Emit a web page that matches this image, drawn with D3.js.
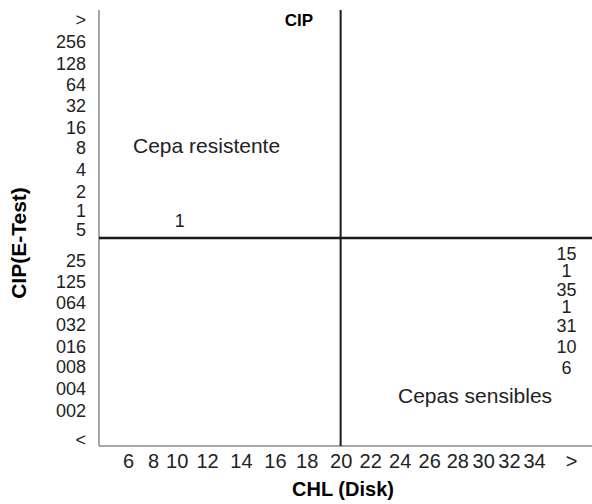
<!DOCTYPE html>
<html>
<head>
<meta charset="utf-8">
<script src="https://cdn.jsdelivr.net/npm/d3@7"></script>
<style>
  body { margin: 0; background: #fff; }
  svg { display: block; font-family: "Liberation Sans", Arial, sans-serif; }
  .num { font-family: "Liberation Sans Narrow", "Arial Narrow", "Liberation Sans", sans-serif; fill: #222; }
</style>
</head>
<body>
<div id="chart"></div>
<script>
"use strict";

// CHL disk diameters (x) and CIP E-test MIC rows (y)
const xTickLabels = ["6", "8", "10", "12", "14", "16", "18", "20", "22", "24", "26", "28", "30", "32", "34", ">"];
// column position of each x label (the source spaces them a little unevenly)
const xTickPos = [6, 7.7, 9.3, 11.35, 13.65, 15.95, 18.1, 20.4, 22.4, 24.4, 26.4, 28.3, 30.05, 31.8, 33.5, 36];

const yTickLabels = ["<", "002", "004", "008", "016", "032", "064", "125", "25", "5", "1", "2", "4", "8", "16", "32", "64", "128", "256", ">"];
// row position of each y label
const yTickPos = [0.3, 1.6, 2.6, 3.6, 4.5, 5.5, 6.5, 7.45, 8.4, 9.8, 10.7, 11.55, 12.55, 13.55, 14.45, 15.45, 16.4, 17.35, 18.35, 19.35];

// breakpoints drawn as the quadrant lines
const xBreak = 20.4;
const yBreak = 9.45;

// strain counts written in the chart
const countX = [9.5, 35.7, 35.7, 35.7, 35.7, 35.7, 35.7, 35.7];
const countY = [10.25, 8.75, 7.98, 7.1, 6.33, 5.47, 4.5, 3.55];
const countText = ["1", "15", "1", "35", "1", "31", "10", "6"];

const width = 592;
const height = 504;
const margin = { top: 10, right: 0, bottom: 58, left: 99 };

const svg = d3.select("#chart").append("svg")
  .attr("width", width)
  .attr("height", height);

const x = d3.scaleLinear()
  .domain([6, 36])
  .range([128, 571]);

const y = d3.scaleLinear()
  .domain([0, 19.8])
  .range([height - margin.bottom, margin.top]);

// Axes
const yAxis = d3.axisLeft(y)
  .tickValues(yTickPos)
  .tickFormat((d, i) => yTickLabels[i])
  .tickSize(0)
  .tickPadding(13);

svg.append("g")
  .attr("transform", `translate(${margin.left},0)`)
  .call(yAxis)
  .call((g) => g.select(".domain").remove())
  .selectAll("text")
  .attr("class", "num")
  .attr("font-size", 18);

const xAxis = d3.axisBottom(x)
  .tickValues(xTickPos)
  .tickFormat((d, i) => xTickLabels[i])
  .tickSize(0)
  .tickPadding(8);

svg.append("g")
  .attr("transform", `translate(0,${height - margin.bottom})`)
  .call(xAxis)
  .call((g) => g.select(".domain").remove())
  .selectAll("text")
  .attr("class", "num")
  .attr("font-size", 20);

// axis lines
svg.append("line")
  .attr("x1", margin.left).attr("x2", margin.left)
  .attr("y1", margin.top).attr("y2", height - margin.bottom)
  .attr("stroke", "#8a8a8a").attr("stroke-width", 1.5);

svg.append("line")
  .attr("x1", margin.left).attr("x2", width)
  .attr("y1", height - margin.bottom).attr("y2", height - margin.bottom)
  .attr("stroke", "#8a8a8a").attr("stroke-width", 1.5);

// quadrant lines
svg.append("line")
  .attr("x1", x(xBreak)).attr("x2", x(xBreak))
  .attr("y1", margin.top).attr("y2", height - margin.bottom)
  .attr("stroke", "#1a1a1a").attr("stroke-width", 2);

svg.append("line")
  .attr("x1", margin.left).attr("x2", width)
  .attr("y1", y(yBreak)).attr("y2", y(yBreak))
  .attr("stroke", "#1a1a1a").attr("stroke-width", 2.5);

// counts
svg.append("g")
  .selectAll("text")
  .data(countText)
  .join("text")
  .attr("class", "num")
  .attr("x", (d, i) => x(countX[i]))
  .attr("y", (d, i) => y(countY[i]))
  .attr("dy", "0.35em")
  .attr("text-anchor", "middle")
  .attr("font-size", 18)
  .text((d) => d);

// labels
svg.append("text")
  .attr("x", 299).attr("y", 26)
  .attr("font-size", 17).attr("font-weight", "bold")
  .attr("text-anchor", "middle")
  .text("CIP");

svg.append("text")
  .attr("x", 133).attr("y", 153)
  .attr("font-size", 21)
  .attr("fill", "#222")
  .text("Cepa resistente");

svg.append("text")
  .attr("x", 398).attr("y", 403)
  .attr("font-size", 21)
  .attr("fill", "#222")
  .text("Cepas sensibles");

svg.append("text")
  .attr("x", 343).attr("y", 496)
  .attr("font-size", 20).attr("font-weight", "bold")
  .attr("text-anchor", "middle")
  .text("CHL (Disk)");

svg.append("text")
  .attr("transform", "translate(26,243) rotate(-90)")
  .attr("font-size", 21).attr("font-weight", "bold")
  .attr("text-anchor", "middle")
  .text("CIP(E-Test)");
</script>
</body>
</html>
